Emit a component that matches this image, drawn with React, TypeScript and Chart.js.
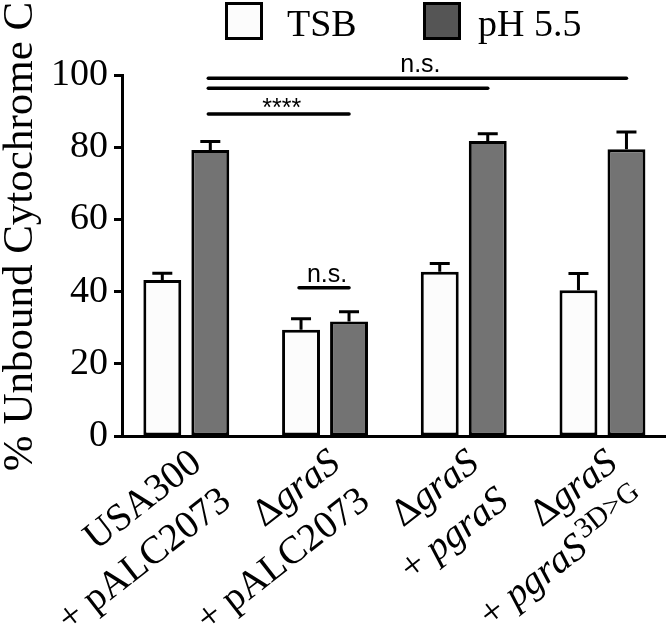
import React, { useEffect, useRef } from "react";
import { Chart, registerables } from "chart.js";

Chart.register(...registerables);

// ---------- data ----------
const categories = ["USA300 + pALC2073", "ΔgraS + pALC2073", "ΔgraS + pgraS", "ΔgraS + pgraS3D>G"];
const seriesNames = ["TSB", "pH 5.5"];
const tsbValues = [43.2, 29.4, 45.5, 40.4];
const tsbErrors = [1.9, 3.1, 2.3, 4.6];
const phValues = [79.2, 31.7, 81.7, 79.4];
const phErrors = [2.4, 2.7, 2.0, 4.8];
const yTicks = [0, 20, 40, 60, 80, 100];
const yTitle = "% Unbound Cytochrome C";

// tick label lines, as [text, style] segments: n = normal, i = italic, s = superscript
const xLabelLines = [
  [[["USA300", "n"]], [["+ pALC2073", "n"]]],
  [[["Δ", "n"], ["graS", "i"]], [["+ pALC2073", "n"]]],
  [[["Δ", "n"], ["graS", "i"]], [["+ ", "n"], ["pgraS", "i"]]],
  [[["Δ", "n"], ["graS", "i"]], [["+ ", "n"], ["pgraS", "i"], ["3D>G", "s"]]],
];

// significance brackets (series index, category index) -> (series index, category index)
const sigFromSeries = [1, 1, 1, 0];
const sigFromCat = [0, 0, 0, 1];
const sigToSeries = [1, 1, 1, 1];
const sigToCat = [3, 2, 1, 1];
const sigLevel = [99.1, 96.3, 89.2, 41.1];
const sigText = ["n.s.", "", "****", "n.s."];

// ---------- styles ----------
const SERIF = "'Liberation Serif', 'Times New Roman', serif";
const SANS = "'Liberation Sans', Arial, sans-serif";
const barFills = ["#fcfcfc", "#737373"];
const legendFills = ["#fcfcfc", "#555555"];

const errorBarPlugin = {
  id: "errorBars",
  afterDatasetsDraw(chart: any) {
    const ctx = chart.ctx;
    const y = chart.scales.y;
    const errs = [tsbErrors, phErrors];
    chart.data.datasets.forEach((ds: any, di: number) => {
      const meta = chart.getDatasetMeta(di);
      meta.data.forEach((bar: any, i: number) => {
        const v = ds.data[i].y;
        const top = y.getPixelForValue(v + errs[di][i]);
        ctx.save();
        ctx.strokeStyle = "#000";
        ctx.lineWidth = 3;
        ctx.beginPath();
        ctx.moveTo(bar.x, bar.y);
        ctx.lineTo(bar.x, top);
        ctx.moveTo(bar.x - 10, top);
        ctx.lineTo(bar.x + 10, top);
        ctx.stroke();
        ctx.restore();
      });
    });
  },
};

const decorPlugin = {
  id: "decor",
  afterDraw(chart: any) {
    const ctx = chart.ctx;
    const xs = chart.scales.x;
    const ys = chart.scales.y;

    // significance lines
    for (let k = 0; k < sigLevel.length; k++) {
      const a = chart.getDatasetMeta(sigFromSeries[k]).data[sigFromCat[k]];
      const b = chart.getDatasetMeta(sigToSeries[k]).data[sigToCat[k]];
      const ly = ys.getPixelForValue(sigLevel[k]);
      ctx.save();
      ctx.strokeStyle = "#000";
      ctx.lineWidth = 3.5;
      ctx.lineCap = "round";
      ctx.beginPath();
      ctx.moveTo(a.x - 2, ly);
      ctx.lineTo(b.x, ly);
      ctx.stroke();
      if (sigText[k]) {
        ctx.font = `25px ${SANS}`;
        ctx.fillStyle = "#000";
        ctx.textAlign = "center";
        ctx.textBaseline = "alphabetic";
        const m = ctx.measureText(sigText[k]);
        const desc = m.actualBoundingBoxDescent || 0;
        ctx.fillText(sigText[k], (a.x + b.x) / 2 + 2, ly - 6 - desc);
      }
      ctx.restore();
    }

    // legend
    const legendBoxX = [225, 423];
    const legendTextX = [287, 478];
    chart.data.datasets.forEach((ds: any, di: number) => {
      ctx.save();
      ctx.fillStyle = legendFills[di];
      ctx.fillRect(legendBoxX[di], 2, 38, 38);
      ctx.strokeStyle = "#000";
      ctx.lineWidth = 3;
      ctx.strokeRect(legendBoxX[di] + 1.5, 3.5, 35, 35);
      ctx.font = `38px ${SERIF}`;
      ctx.fillStyle = "#000";
      ctx.textBaseline = "alphabetic";
      ctx.textAlign = "left";
      ctx.fillText(ds.label, legendTextX[di], 36);
      ctx.restore();
    });

    // y-axis title
    ctx.save();
    ctx.translate(32, 236.5);
    ctx.rotate(-Math.PI / 2);
    ctx.font = `43px ${SERIF}`;
    ctx.fillStyle = "#000";
    ctx.textAlign = "center";
    ctx.textBaseline = "alphabetic";
    ctx.fillText(yTitle, 0, 0);
    ctx.restore();

    // x tick labels (rotated, rich text)
    const angle = (-38 * Math.PI) / 180;
    const fontFor = (s: string) =>
      s === "i" ? `italic 39px ${SERIF}` : s === "s" ? `29px ${SERIF}` : `39px ${SERIF}`;
    categories.forEach((_c, i) => {
      const cx = xs.getPixelForValue(i);
      ctx.save();
      ctx.translate(cx + 17, 467);
      ctx.rotate(angle);
      ctx.fillStyle = "#000";
      ctx.textBaseline = "alphabetic";
      ctx.textAlign = "left";
      xLabelLines[i].forEach((line: any, li: number) => {
        const widths = line.map((seg: any) => {
          ctx.font = fontFor(seg[1]);
          return ctx.measureText(seg[0]).width + (seg[1] === "s" ? 3 : 0);
        });
        const total = widths.reduce((p: number, w: number) => p + w, 0);
        let x = -total;
        const by = li * 48;
        line.forEach((seg: any, si: number) => {
          ctx.font = fontFor(seg[1]);
          if (seg[1] === "s") {
            ctx.fillText(seg[0], x + 3, by - 13);
          } else {
            ctx.fillText(seg[0], x, by);
          }
          x += widths[si];
        });
      });
      ctx.restore();
    });
  },
};

export default function App() {
  const ref = useRef<HTMLCanvasElement | null>(null);

  useEffect(() => {
    if (!ref.current) return;
    const chart = new Chart(ref.current, {
      type: "bar",
      data: {
        datasets: [
          {
            label: seriesNames[0],
            data: tsbValues.map((v, i) => ({ x: i, y: v })),
            backgroundColor: barFills[0],
            borderColor: "#000",
            borderWidth: 3,
            borderSkipped: false,
            categoryPercentage: 0.692,
            barPercentage: 0.79,
          },
          {
            label: seriesNames[1],
            data: phValues.map((v, i) => ({ x: i, y: v })),
            backgroundColor: barFills[1],
            borderColor: "#000",
            borderWidth: 3,
            borderSkipped: false,
            categoryPercentage: 0.692,
            barPercentage: 0.79,
          },
        ],
      },
      options: {
        responsive: false,
        animation: false,
        layout: { padding: { top: 75, bottom: 201, left: 0, right: 0 } },
        plugins: {
          legend: { display: false },
          tooltip: { enabled: false },
          title: { display: false },
        },
        scales: {
          x: {
            type: "linear",
            min: -0.4636,
            max: 3.458,
            offset: false,
            afterBuildTicks: (scale: any) => {
              scale.ticks = categories.map((_c, i) => ({ value: i }));
            },
            grid: { display: false, drawTicks: false },
            ticks: { display: false },
            border: { display: true, color: "#000", width: 3 },
            afterFit: (scale: any) => {
              scale.height = 0;
            },
          },
          y: {
            min: 0,
            max: 100,
            afterBuildTicks: (scale: any) => {
              scale.ticks = yTicks.map((v) => ({ value: v }));
            },
            grid: {
              display: true,
              drawOnChartArea: false,
              drawTicks: true,
              tickLength: 8,
              tickWidth: 3,
              tickColor: "#000",
              color: "#000",
            },
            border: { display: true, color: "#000", width: 3 },
            ticks: {
              padding: 6,
              color: "#000",
              font: { family: SERIF, size: 38 },
            },
            afterFit: (scale: any) => {
              scale.width = 122;
            },
          },
        },
      },
      plugins: [errorBarPlugin, decorPlugin],
    } as any);
    return () => chart.destroy();
  }, []);

  return (
    <div style={{ position: "absolute", left: 0, top: 0, width: 666, height: 637, background: "#fff" }}>
      <canvas ref={ref} width={666} height={637} style={{ display: "block" }} />
    </div>
  );
}
